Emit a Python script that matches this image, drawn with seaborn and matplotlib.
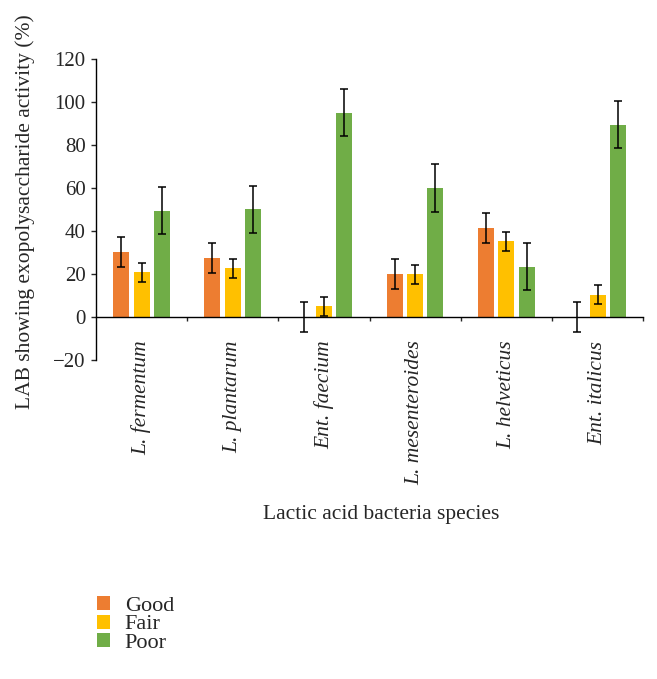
import matplotlib
matplotlib.use("Agg")
import matplotlib.pyplot as plt
import seaborn as sns
import pandas as pd
import numpy as np

# ==== Data ====
species = ["L. fermentum", "L. plantarum", "Ent. faecium",
           "L. mesenteroides", "L. helveticus", "Ent. italicus"]
ratings = ["Good", "Fair", "Poor"]
good = [30.0, 27.2, 0.0, 19.9, 41.2, 0.0]
fair = [20.7, 22.6, 5.0, 19.9, 35.3, 10.4]
poor = [49.4, 50.0, 95.1, 60.0, 23.3, 89.4]
good_err = [7.0] * 6
fair_err = [4.4] * 6
poor_err = [11.0] * 6

colors = ["#ED7D31", "#FFC000", "#70AD47"]

values = {"Good": good, "Fair": fair, "Poor": poor}
errors = {"Good": good_err, "Fair": fair_err, "Poor": poor_err}
df = pd.DataFrame([{"species": sp, "rating": r, "value": values[r][i]}
                   for r in ratings for i, sp in enumerate(species)])

sns.set_style("white")
plt.rcParams["font.family"] = ["Liberation Serif", "DejaVu Serif"]
fs = 15.5

fig = plt.figure(figsize=(6.57, 6.79), dpi=100)
ax = fig.add_axes([0.146, 0.470, 0.833, 0.443])

sns.barplot(data=df, x="species", y="value", hue="rating", hue_order=ratings,
            palette=colors, width=0.667, gap=0.21, errorbar=None,
            linewidth=0, saturation=1, ax=ax, legend=True)

# error bars at the bar centres
for r, container in zip(ratings, ax.containers):
    xs = [p.get_x() + p.get_width() / 2 for p in container.patches]
    ax.errorbar(xs, values[r], yerr=errors[r], fmt="none", ecolor="black",
                elinewidth=1.1, capsize=2.6, capthick=1.1)

ax.set_xlim(-0.5, 5.5)
ax.set_ylim(-20, 120)
ax.set_yticks(np.arange(-20, 121, 20))
ax.set_yticklabels(["\u221220"] + [str(v) for v in range(0, 121, 20)])

for s in ["top", "right"]:
    ax.spines[s].set_visible(False)
ax.spines["bottom"].set_position(("data", 0))
for s in ["left", "bottom"]:
    ax.spines[s].set_color("black")
    ax.spines[s].set_linewidth(1.0)

ax.tick_params(axis="y", direction="out", length=3.5, width=1, left=True,
               labelsize=15, pad=4)
ax.set_xticks(np.arange(6))
ax.set_xticks(np.arange(0.5, 6, 1), minor=True)
ax.tick_params(axis="x", which="major", length=0, pad=17, labelsize=fs)
ax.tick_params(axis="x", which="minor", direction="out", length=3, width=1,
               bottom=True)
ax.set_xticklabels(species, rotation=90, style="italic")

ax.set_xlabel("")
ax.set_ylabel("")
fig.text(25 / 657, 1 - 212 / 679, "LAB showing exopolysaccharide activity (%)",
         rotation=90, ha="center", va="center", fontsize=fs)
fig.text(381 / 657, 1 - 515 / 679, "Lactic acid bacteria species",
         ha="center", va="center", fontsize=fs)

handles, labels = ax.get_legend_handles_labels()
ax.get_legend().remove()
fig.legend(handles, labels, loc="upper left",
           bbox_to_anchor=(77 / 657, 1 - 576 / 679), frameon=False,
           handlelength=0.6, handleheight=0.6, handletextpad=0.65,
           labelspacing=-0.06, fontsize=16)

fig.savefig("out.png", dpi=100)
